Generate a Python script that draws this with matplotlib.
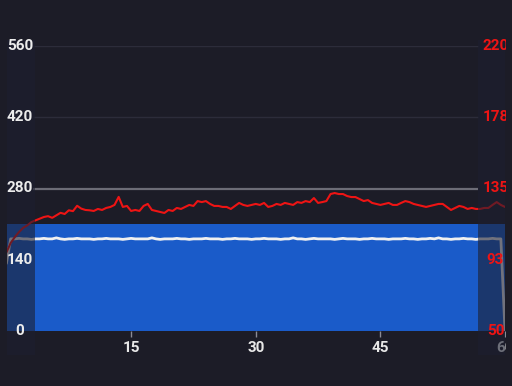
"""Dark dual-axis monitor chart: blue band, white level line, red trace on a right axis."""

import matplotlib

matplotlib.use("Agg")
import matplotlib.pyplot as plt
import matplotlib.transforms as mtransforms
from matplotlib.patches import Rectangle
import numpy as np

plt.rcParams["font.family"] = ["Roboto", "DejaVu Sans"]

BG = "#1c1c27"
BLUE = "#1a5bc9"
RED = "#ee1414"
WHITE = "#f0f0f0"

# time axis (seconds), one sample every half second
T = np.arange(0, 60.01, 0.5)

# red trace, read against the right axis
RED_V = [
    97, 102.5, 106, 109, 111.5, 113, 115, 116, 117, 118,
    118.5, 117.5, 119, 120.5, 119.8, 122, 121.5, 124.7, 123, 122.2,
    122, 121.6, 122.8, 122.2, 123.4, 124, 125.2, 130, 124, 124.6,
    121.6, 122.2, 121.6, 124.6, 125.8, 122.2, 121.6, 121, 120.4, 122.2,
    121.6, 123.4, 122.8, 124, 125.2, 124.6, 127.5, 126.9, 127.5, 125.8,
    124.6, 124.6, 124, 124, 122.8, 124.6, 126.4, 125.2, 124.6, 125.2,
    125.8, 125.2, 126.4, 124, 124.6, 125.8, 125.2, 126.4, 125.8, 125.2,
    126.9, 126.4, 127.5, 126.9, 129.3, 126.4, 126.9, 127.5, 131.7, 132.3,
    131.7, 131.7, 130.5, 129.9, 129.9, 128.7, 127.5, 128.1, 126.4, 125.8,
    125.2, 125.8, 126.4, 125.2, 125.2, 126.4, 127.5, 126.9, 125.8, 125.2,
    124.6, 124, 124.6, 125.2, 125.8, 125.8, 124, 122.2, 123.4, 124.6,
    124, 122.8, 123.4, 122.8, 122.8, 123.4, 123.4, 125.2, 126.9, 125.2,
    124,
]

# white level line, read against the left axis
WHITE_V = [
    134, 181, 181, 182, 181, 181, 180, 181, 181, 182,
    181, 181, 183, 181, 180, 181, 181, 182, 181, 181,
    181, 180, 181, 181, 182, 181, 181, 181, 180, 181,
    182, 181, 181, 181, 181, 183, 181, 180, 181, 181,
    181, 182, 181, 181, 180, 181, 181, 181, 182, 181,
    181, 181, 180, 181, 181, 182, 181, 181, 181, 180,
    181, 181, 182, 181, 181, 181, 180, 181, 181, 183,
    181, 181, 180, 181, 182, 181, 181, 181, 181, 180,
    181, 182, 181, 181, 181, 180, 181, 181, 182, 181,
    181, 181, 180, 181, 181, 181, 182, 181, 181, 180,
    181, 181, 182, 181, 183, 181, 181, 180, 181, 181,
    182, 181, 181, 180, 181, 181, 181, 182, 181, 181,
    0,
]

BAND_TOP = 210          # blue band height (left axis)
SELECTION = (3.43, 56.7)  # selected time window

LEFT_TICKS = [0, 140, 280, 420, 560]
RIGHT_TICKS = [50, 92.5, 135, 177.5, 220]
RIGHT_LABELS = ["50", "93", "135", "178", "220"]
X_TICKS = [15, 30, 45, 60]

W, H = 512, 386
fig = plt.figure(figsize=(W / 100, H / 100), dpi=100, facecolor=BG)
ax = fig.add_axes([6.5 / W, 55 / H, (505 - 6.5) / W, (331 - 46) / H])
ax.set_facecolor(BG)
ax.set_xlim(0, 60)
ax.set_ylim(0, 560)
ax2 = ax.twinx()
ax2.set_ylim(50, 220)

for a in (ax, ax2):
    for s in a.spines.values():
        s.set_visible(False)
    a.set_yticks([])

# grid lines only inside the selection
ax.hlines([420, 560], SELECTION[0] - 0.25, SELECTION[1], color="#2c2c3a", lw=1, zorder=0)
ax.hlines(280, SELECTION[0] - 0.25, SELECTION[1], color="#6c6c76", lw=1.6, zorder=0)

ax.fill_between([0, 60], 0, BAND_TOP, color=BLUE, lw=0, zorder=1)
ax.plot(T, WHITE_V, color=WHITE, lw=2.0, zorder=2)
ax2.plot(T, RED_V, color=RED, lw=1.5, zorder=2)

ax.set_xticks(X_TICKS)
ax.set_xticklabels([str(v) for v in X_TICKS])
ax.tick_params(axis="x", colors="#8b8b95", labelcolor="#e8e8e8",
               length=4.5, width=1, pad=3, labelsize=11)
for lab in ax.get_xticklabels():
    lab.set_fontweight("semibold")

# dim everything outside the selected window
blend = mtransforms.blended_transform_factory(ax2.transData, ax2.transAxes)
for x0, x1 in [(0, SELECTION[0]), (SELECTION[1], 60)]:
    ax2.add_patch(Rectangle((x0, -0.084), x1 - x0, 1.105, transform=blend,
                            facecolor="#1c1f30", alpha=0.6, lw=0,
                            clip_on=False, zorder=3))

for v in LEFT_TICKS:
    ax2.text(1.63, v, str(v), transform=ax.transData, ha="center", va="center",
             color="#ececec", fontsize=11, fontweight="semibold", zorder=5)
for v, lab in zip(RIGHT_TICKS, RIGHT_LABELS):
    ax2.text(58.85, v, lab, ha="center", va="center", color=RED,
             fontsize=11, fontweight="semibold", zorder=5)

# the canvas stops a few pixels short of the image edge
fig.add_artist(Rectangle((505.5 / W, 0), 1, 1, transform=fig.transFigure,
                         facecolor=BG, lw=0, zorder=10))

fig.savefig("out.png", dpi=100, facecolor=BG)
